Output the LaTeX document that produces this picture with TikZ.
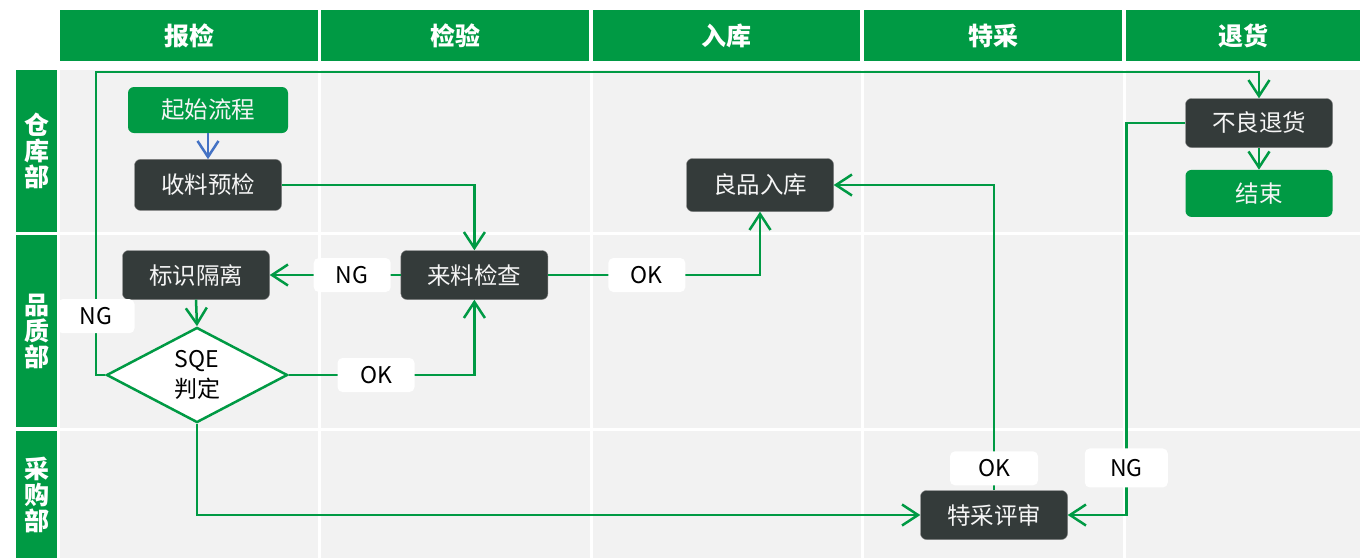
\documentclass[tikz,border=0pt]{standalone}
\usepackage{fontspec}
\setmainfont{Noto Sans CJK SC}
\usetikzlibrary{positioning,shapes.geometric,arrows.meta}
\definecolor{lanegreen}{RGB}{0,154,68}
\definecolor{boxgray}{RGB}{52,59,58}
\definecolor{lanegray}{RGB}{242,242,242}
\definecolor{startblue}{RGB}{68,114,196}
\tikzset{line/.style={draw, lanegreen, line width=2.5pt, -{Straight Barb[length=16pt, width=21pt]}}}

\begin{document}
\begin{tikzpicture}[x=1pt, y=-1pt, node distance = 25pt]
\tikzstyle{block} = [rectangle, rounded corners=6pt, draw=gray, fill=boxgray, text=white!92!gray, minimum width=147pt, minimum height=49pt, inner sep=0pt, font=\fontsize{23.5}{26}\selectfont]
\tikzstyle{terminal} = [block, draw=none, fill=lanegreen]
\tikzstyle{decision} = [diamond, draw=lanegreen, line width=2.5pt, fill=white, minimum width=181pt, minimum height=77pt, inner sep=0pt, align=center, font=\fontsize{23}{30}\selectfont]
\tikzstyle{tag} = [rectangle, rounded corners=5pt, fill=white, text=black, minimum width=77pt, minimum height=34pt, font=\fontsize{23}{24}\selectfont]
\tikzstyle{headtext} = [text=white, align=center, font=\fontsize{25}{26}\selectfont\bfseries]

\useasboundingbox (0,0) rectangle (1360,558);

% lanes
\fill[lanegray] (60,70) rectangle (1360,558);
\foreach \x in {319,591,862,1124}
  \draw[white, line width=3pt] (\x,70) -- (\x,558);
\foreach \y in {233,429}
  \draw[white, line width=3pt] (60,\y) -- (1360,\y);

% column and row headers
\foreach \l/\r/\t [count=\i] in {60/318/报检, 321/589/检验, 593/860/入库, 864/1122/特采, 1126/1360/退货} {
  \fill[lanegreen] (\l,10) rectangle (\r,61);
  \node[headtext] (col\i) at ({(\l+\r)/2},35.5) {\t};
}
\foreach \u/\d/\t [count=\i] in {70/232/{仓\\库\\部}, 235/427/{品\\质\\部}, 431/558/{采\\购\\部}} {
  \fill[lanegreen] (16,\u) rectangle (57,\d);
  \node[headtext] (row\i) at (36.5,{(\u+\d)/2}) {\t};
}

\node [terminal, minimum width=160pt, minimum height=46pt] (start) at (208,110) {起始流程};
\node [block, minimum height=51pt, below=26pt of start] (prechk) {收料预检};
\node [block] (isolate) at (196,275) {标识隔离};
\node [block, right=131pt of isolate] (check) {来料检查};
\node [decision] (sqe) at (197,375) {SQE\\判定};
\node [block, minimum height=53pt] (good) at (760,185) {良品入库};
\node [block] (reject) at (1259,123) {不良退货};
\node [terminal, minimum height=47pt, below=22pt of reject] (finish) {结束};
\node [block] (review) at (994,515) {特采评审};
\coordinate (loop) at (96,72);

\path [line, startblue] (start.south) -- (prechk.north);
\path [line] (prechk.east) -| (check.north);
\path [line] (check.west) -- node[tag, pos=0.37] (ng1) {NG} (isolate.east);
\path [line] (isolate.south) -- (sqe.north);
\path [line] (sqe.east) -| node[tag, pos=0.235] (ok1) {OK} (check.south);
\path [line] (sqe.west) -| node[tag, pos=0.597] (ng2) {NG} (loop) -| (reject.north);
\path [line] (check.east) -| node[tag, pos=0.233] (ok2) {OK} (good.south);
\path [line] (sqe.south) |- (review.west);
\path [line] (review.north) |- node[tag, pos=0.036, minimum width=88pt] (ok3) {OK} (good.east);
\path [line] (reject.west) -- ++(-59,0) |- node[tag, pos=0.44, minimum width=83pt, minimum height=39pt] (ng3) {NG} (review.east);
\path [line] (reject.south) -- (finish.north);

\end{tikzpicture}
\end{document}
